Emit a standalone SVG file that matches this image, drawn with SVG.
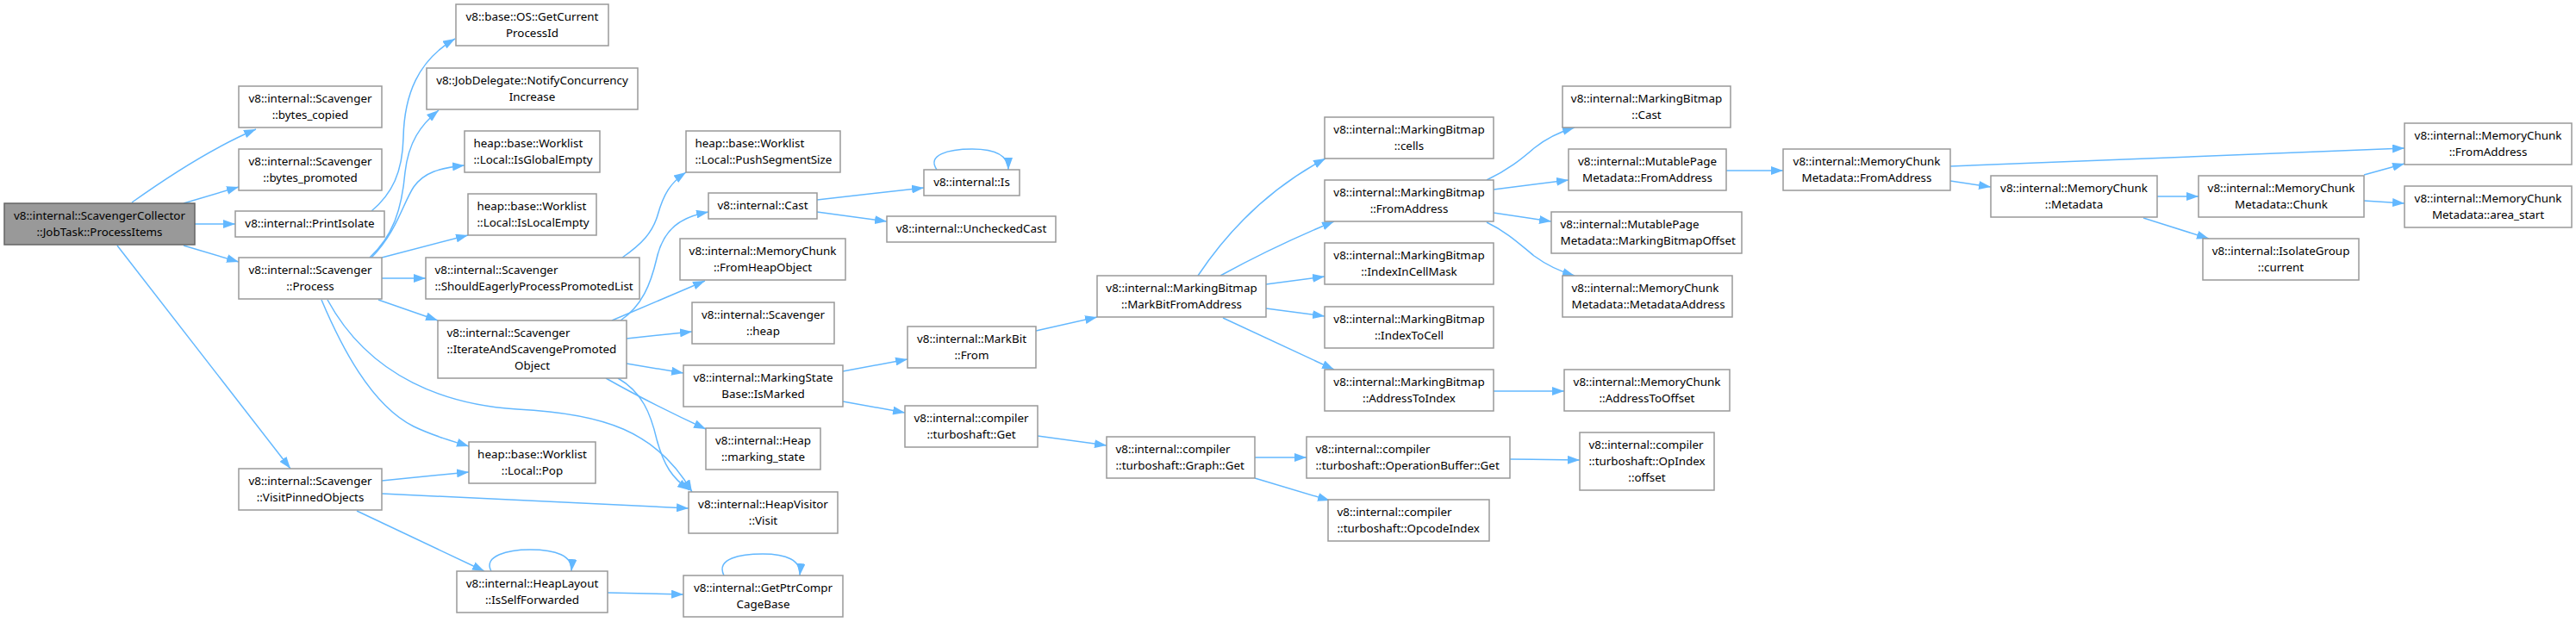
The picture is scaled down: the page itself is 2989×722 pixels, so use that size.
<svg xmlns="http://www.w3.org/2000/svg" width="2989" height="722" viewBox="0 0 2989 722">
<defs>
<marker id="a" viewBox="0 0 14 10" refX="14" refY="5" markerWidth="14" markerHeight="10" markerUnits="userSpaceOnUse" orient="auto">
<path d="M0,0 L14,5 L0,10 z" fill="#63b8ff"/>
</marker>
</defs>
<style>
.node rect{fill:#ffffff;stroke:#999999;stroke-width:1.5}
.root rect{fill:#999999;stroke:#666666;stroke-width:1.5}
text{font-family:"Noto Sans","Liberation Sans",sans-serif;font-size:13.4px;fill:#000000}
.c{text-anchor:middle}
.l{text-anchor:start}
#edges path{fill:none;stroke:#63b8ff;stroke-width:1.5;marker-end:url(#a)}
</style>
<rect width="2989" height="722" fill="#ffffff"/>
<g id="edges">
<path d="M153,235 C195,205 250,170 297,150"/>
<path d="M213,236 L277,217"/>
<path d="M226,260 L273,260"/>
<path d="M213,285 L277,304"/>
<path d="M136,285 L337,544"/>
<path d="M431,245 C455,225 467,200 468,160 C469,110 485,70 528,45"/>
<path d="M429,299 C455,275 466,245 470,200 C474,165 488,145 509,128"/>
<path d="M431,299 C460,270 468,235 480,217 C492,200 510,195 539,192"/>
<path d="M443,299 L543,273"/>
<path d="M443,323 L494,323"/>
<path d="M439,348 L508,372"/>
<path d="M373,348 C395,400 430,470 480,495 C505,507 525,512 544,518"/>
<path d="M380,348 C430,440 520,470 600,475 C700,480 762,500 803,571"/>
<path d="M717,439 C745,455 755,480 762,510 C770,540 780,555 800,569"/>
<path d="M703,439 C740,460 780,480 819,498"/>
<path d="M727,393 L803,385"/>
<path d="M727,422 L793,433"/>
<path d="M710,372 L818,326"/>
<path d="M720,372 C745,355 755,330 762,300 C770,265 790,252 822,246"/>
<path d="M722,299 C745,283 757,270 763,250 C770,225 778,212 796,200"/>
<path d="M948,232 L1072,218"/>
<path d="M948,246 L1029,257"/>
<path d="M1087,197 C1075,180 1100,173 1128,173 C1155,173 1170,180 1170,197"/>
<path d="M978,431 L1053,417"/>
<path d="M978,466 L1050,479"/>
<path d="M1202,384 L1273,368"/>
<path d="M1204,506 L1284,517"/>
<path d="M1456,531 L1516,531"/>
<path d="M1456,555 L1543,581"/>
<path d="M1752,533 L1833,534"/>
<path d="M1390,320 C1430,260 1480,215 1538,184"/>
<path d="M1416,320 Q1480,285 1548,257"/>
<path d="M1469,330 L1537,321"/>
<path d="M1469,358 L1537,367"/>
<path d="M1419,369 L1548,429"/>
<path d="M1725,209 C1750,197 1765,185 1780,172 C1795,160 1810,153 1827,148"/>
<path d="M1733,220 L1820,209"/>
<path d="M1733,247 L1800,257"/>
<path d="M1725,258 C1750,270 1765,285 1780,297 C1795,308 1810,315 1827,320"/>
<path d="M2003,198 L2069,198"/>
<path d="M2263,193 L2790,172"/>
<path d="M2263,210 L2310,217"/>
<path d="M2503,228 L2551,228"/>
<path d="M2487,253 L2563,277"/>
<path d="M2743,203 L2790,190"/>
<path d="M2743,233 L2790,236"/>
<path d="M1733,454 L1815,454"/>
<path d="M443,558 L544,548"/>
<path d="M443,573 L799,590"/>
<path d="M414,593 L562,663"/>
<path d="M570,663 C560,645 590,638 615,638 C645,638 665,645 663,663"/>
<path d="M705,688 L793,690"/>
<path d="M840,668 C830,648 860,643 885,643 C912,643 930,650 928,668"/>
</g>
<g id="n0" class="root"><rect x="5" y="236" width="221" height="48"/><text class="c" x="115.5" y="254.5">v8::internal::ScavengerCollector</text><text class="c" x="115.5" y="273.5">::JobTask::ProcessItems</text></g>
<g id="n1" class="node"><rect x="277" y="100" width="166" height="48"/><text class="c" x="360" y="118.5">v8::internal::Scavenger</text><text class="c" x="360" y="137.5">::bytes_copied</text></g>
<g id="n2" class="node"><rect x="277" y="173" width="166" height="48"/><text class="c" x="360" y="191.5">v8::internal::Scavenger</text><text class="c" x="360" y="210.5">::bytes_promoted</text></g>
<g id="n3" class="node"><rect x="273" y="245" width="173" height="30"/><text class="c" x="359.5" y="264">v8::internal::PrintIsolate</text></g>
<g id="n4" class="node"><rect x="277" y="299" width="166" height="48"/><text class="c" x="360" y="317.5">v8::internal::Scavenger</text><text class="c" x="360" y="336.5">::Process</text></g>
<g id="n5" class="node"><rect x="277" y="544" width="166" height="48"/><text class="c" x="360" y="562.5">v8::internal::Scavenger</text><text class="c" x="360" y="581.5">::VisitPinnedObjects</text></g>
<g id="n6" class="node"><rect x="529" y="5" width="177" height="48"/><text class="c" x="617.5" y="23.5">v8::base::OS::GetCurrent</text><text class="c" x="617.5" y="42.5">ProcessId</text></g>
<g id="n7" class="node"><rect x="495" y="79" width="245" height="48"/><text class="c" x="617.5" y="97.5">v8::JobDelegate::NotifyConcurrency</text><text class="c" x="617.5" y="116.5">Increase</text></g>
<g id="n8" class="node"><rect x="539" y="152" width="157" height="48"/><text class="l" x="549.5" y="170.5">heap::base::Worklist</text><text class="l" x="549.5" y="189.5">::Local::IsGlobalEmpty</text></g>
<g id="n9" class="node"><rect x="543" y="225" width="149" height="48"/><text class="l" x="553.5" y="243.5">heap::base::Worklist</text><text class="l" x="553.5" y="262.5">::Local::IsLocalEmpty</text></g>
<g id="n10" class="node"><rect x="494" y="299" width="248" height="48"/><text class="l" x="504.5" y="317.5">v8::internal::Scavenger</text><text class="l" x="504.5" y="336.5">::ShouldEagerlyProcessPromotedList</text></g>
<g id="n11" class="node"><rect x="508" y="372" width="219" height="67"/><text class="l" x="518.5" y="390.5">v8::internal::Scavenger</text><text class="l" x="518.5" y="409.5">::IterateAndScavengePromoted</text><text class="c" x="617.5" y="428.5">Object</text></g>
<g id="n12" class="node"><rect x="544" y="513" width="147" height="48"/><text class="c" x="617.5" y="531.5">heap::base::Worklist</text><text class="c" x="617.5" y="550.5">::Local::Pop</text></g>
<g id="n13" class="node"><rect x="530" y="663" width="175" height="48"/><text class="c" x="617.5" y="681.5">v8::internal::HeapLayout</text><text class="c" x="617.5" y="700.5">::IsSelfForwarded</text></g>
<g id="n14" class="node"><rect x="796" y="152" width="179" height="48"/><text class="l" x="806.5" y="170.5">heap::base::Worklist</text><text class="l" x="806.5" y="189.5">::Local::PushSegmentSize</text></g>
<g id="n15" class="node"><rect x="822" y="224" width="126" height="30"/><text class="c" x="885" y="243">v8::internal::Cast</text></g>
<g id="n16" class="node"><rect x="789" y="277" width="192" height="48"/><text class="c" x="885" y="295.5">v8::internal::MemoryChunk</text><text class="c" x="885" y="314.5">::FromHeapObject</text></g>
<g id="n17" class="node"><rect x="803" y="351" width="165" height="48"/><text class="c" x="885.5" y="369.5">v8::internal::Scavenger</text><text class="c" x="885.5" y="388.5">::heap</text></g>
<g id="n18" class="node"><rect x="793" y="424" width="185" height="48"/><text class="c" x="885.5" y="442.5">v8::internal::MarkingState</text><text class="c" x="885.5" y="461.5">Base::IsMarked</text></g>
<g id="n19" class="node"><rect x="819" y="497" width="133" height="48"/><text class="c" x="885.5" y="515.5">v8::internal::Heap</text><text class="c" x="885.5" y="534.5">::marking_state</text></g>
<g id="n20" class="node"><rect x="799" y="571" width="173" height="48"/><text class="c" x="885.5" y="589.5">v8::internal::HeapVisitor</text><text class="c" x="885.5" y="608.5">::Visit</text></g>
<g id="n21" class="node"><rect x="793" y="668" width="185" height="48"/><text class="c" x="885.5" y="686.5">v8::internal::GetPtrCompr</text><text class="c" x="885.5" y="705.5">CageBase</text></g>
<g id="n22" class="node"><rect x="1072" y="197" width="111" height="30"/><text class="c" x="1127.5" y="216">v8::internal::Is</text></g>
<g id="n23" class="node"><rect x="1029" y="251" width="196" height="30"/><text class="c" x="1127" y="270">v8::internal::UncheckedCast</text></g>
<g id="n24" class="node"><rect x="1053" y="379" width="149" height="48"/><text class="c" x="1127.5" y="397.5">v8::internal::MarkBit</text><text class="c" x="1127.5" y="416.5">::From</text></g>
<g id="n25" class="node"><rect x="1050" y="471" width="154" height="48"/><text class="c" x="1127" y="489.5">v8::internal::compiler</text><text class="c" x="1127" y="508.5">::turboshaft::Get</text></g>
<g id="n26" class="node"><rect x="1284" y="507" width="172" height="48"/><text class="l" x="1294.5" y="525.5">v8::internal::compiler</text><text class="l" x="1294.5" y="544.5">::turboshaft::Graph::Get</text></g>
<g id="n27" class="node"><rect x="1273" y="320" width="196" height="48"/><text class="c" x="1371" y="338.5">v8::internal::MarkingBitmap</text><text class="c" x="1371" y="357.5">::MarkBitFromAddress</text></g>
<g id="n28" class="node"><rect x="1537" y="136" width="196" height="48"/><text class="c" x="1635" y="154.5">v8::internal::MarkingBitmap</text><text class="c" x="1635" y="173.5">::cells</text></g>
<g id="n29" class="node"><rect x="1537" y="209" width="196" height="48"/><text class="c" x="1635" y="227.5">v8::internal::MarkingBitmap</text><text class="c" x="1635" y="246.5">::FromAddress</text></g>
<g id="n30" class="node"><rect x="1537" y="282" width="196" height="48"/><text class="c" x="1635" y="300.5">v8::internal::MarkingBitmap</text><text class="c" x="1635" y="319.5">::IndexInCellMask</text></g>
<g id="n31" class="node"><rect x="1537" y="356" width="196" height="48"/><text class="c" x="1635" y="374.5">v8::internal::MarkingBitmap</text><text class="c" x="1635" y="393.5">::IndexToCell</text></g>
<g id="n32" class="node"><rect x="1537" y="429" width="196" height="48"/><text class="c" x="1635" y="447.5">v8::internal::MarkingBitmap</text><text class="c" x="1635" y="466.5">::AddressToIndex</text></g>
<g id="n33" class="node"><rect x="1516" y="507" width="236" height="48"/><text class="l" x="1526.5" y="525.5">v8::internal::compiler</text><text class="l" x="1526.5" y="544.5">::turboshaft::OperationBuffer::Get</text></g>
<g id="n34" class="node"><rect x="1541" y="580" width="187" height="48"/><text class="l" x="1551.5" y="598.5">v8::internal::compiler</text><text class="l" x="1551.5" y="617.5">::turboshaft::OpcodeIndex</text></g>
<g id="n35" class="node"><rect x="1813" y="100" width="195" height="48"/><text class="c" x="1910.5" y="118.5">v8::internal::MarkingBitmap</text><text class="c" x="1910.5" y="137.5">::Cast</text></g>
<g id="n36" class="node"><rect x="1820" y="173" width="183" height="48"/><text class="c" x="1911.5" y="191.5">v8::internal::MutablePage</text><text class="c" x="1911.5" y="210.5">Metadata::FromAddress</text></g>
<g id="n37" class="node"><rect x="1800" y="246" width="221" height="48"/><text class="l" x="1810.5" y="264.5">v8::internal::MutablePage</text><text class="l" x="1810.5" y="283.5">Metadata::MarkingBitmapOffset</text></g>
<g id="n38" class="node"><rect x="1813" y="320" width="197" height="48"/><text class="l" x="1823.5" y="338.5">v8::internal::MemoryChunk</text><text class="l" x="1823.5" y="357.5">Metadata::MetadataAddress</text></g>
<g id="n39" class="node"><rect x="1815" y="429" width="192" height="48"/><text class="c" x="1911" y="447.5">v8::internal::MemoryChunk</text><text class="c" x="1911" y="466.5">::AddressToOffset</text></g>
<g id="n40" class="node"><rect x="1833" y="502" width="156" height="67"/><text class="l" x="1843.5" y="520.5">v8::internal::compiler</text><text class="l" x="1843.5" y="539.5">::turboshaft::OpIndex</text><text class="c" x="1911" y="558.5">::offset</text></g>
<g id="n41" class="node"><rect x="2069" y="173" width="194" height="48"/><text class="c" x="2166" y="191.5">v8::internal::MemoryChunk</text><text class="c" x="2166" y="210.5">Metadata::FromAddress</text></g>
<g id="n42" class="node"><rect x="2310" y="204" width="193" height="48"/><text class="c" x="2406.5" y="222.5">v8::internal::MemoryChunk</text><text class="c" x="2406.5" y="241.5">::Metadata</text></g>
<g id="n43" class="node"><rect x="2551" y="204" width="192" height="48"/><text class="c" x="2647" y="222.5">v8::internal::MemoryChunk</text><text class="c" x="2647" y="241.5">Metadata::Chunk</text></g>
<g id="n44" class="node"><rect x="2556" y="277" width="181" height="48"/><text class="c" x="2646.5" y="295.5">v8::internal::IsolateGroup</text><text class="c" x="2646.5" y="314.5">::current</text></g>
<g id="n45" class="node"><rect x="2790" y="143" width="194" height="48"/><text class="c" x="2887" y="161.5">v8::internal::MemoryChunk</text><text class="c" x="2887" y="180.5">::FromAddress</text></g>
<g id="n46" class="node"><rect x="2790" y="216" width="194" height="48"/><text class="c" x="2887" y="234.5">v8::internal::MemoryChunk</text><text class="c" x="2887" y="253.5">Metadata::area_start</text></g>
</svg>
